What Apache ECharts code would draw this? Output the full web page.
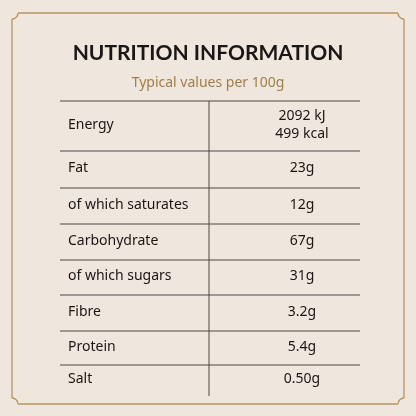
<!DOCTYPE html>
<html><head><meta charset="utf-8">
<script src="https://cdn.jsdelivr.net/npm/echarts@6/dist/echarts.min.js"></script>
<style>html,body{margin:0;padding:0;background:#efe6de}#c{width:416px;height:416px}</style>
</head><body><div id="c"></div>
<script>
const title = "NUTRITION INFORMATION";
const subtitle = "Typical values per 100g";
const nutrients = ["Energy","Fat","of which saturates","Carbohydrate","of which sugars","Fibre","Protein","Salt"];
const amounts = [["2092 kJ","499 kcal"],["23g"],["12g"],["67g"],["31g"],["3.2g"],["5.4g"],["0.50g"]];
const rowEdges = [101,151,188,224,260,295,331,365,396];

const chart = echarts.init(document.getElementById('c'), null, {renderer:'canvas'});
const g = [];
const ink = '#1a1614', line = '#4a4644', font = '"Noto Sans", "Open Sans", sans-serif';
const fr = {stroke:'#b8955e', lineWidth:1.3, fill:'none'};
const L=12,R=404,T=13,B=404,r=6,P=Math.PI;
g.push({type:'line', shape:{x1:L+r,y1:T,x2:R-r,y2:T}, style:fr});
g.push({type:'line', shape:{x1:L+r,y1:B,x2:R-r,y2:B}, style:fr});
g.push({type:'line', shape:{x1:L,y1:T+r,x2:L,y2:B-r}, style:fr});
g.push({type:'line', shape:{x1:R,y1:T+r,x2:R,y2:B-r}, style:fr});
[[L,T,0,P/2],[R,T,P/2,P],[R,B,P,1.5*P],[L,B,1.5*P,2*P]].forEach(c=>{
  g.push({type:'arc', shape:{cx:c[0],cy:c[1],r:r,startAngle:c[2],endAngle:c[3],clockwise:true}, style:fr});
});
g.push({type:'text', x:208, y:53, style:{text:title, align:'center', verticalAlign:'middle', font:'bold 21px "Lato", "Noto Sans", sans-serif', fill:ink}});
g.push({type:'text', x:208, y:83, style:{text:subtitle, align:'center', verticalAlign:'middle', font:'14px '+font, fill:'#a27d47'}});
for (let i=0;i<rowEdges.length-1;i++){
  g.push({type:'line', shape:{x1:60,y1:rowEdges[i],x2:360,y2:rowEdges[i]}, style:{stroke:line, lineWidth:1}});
  const yc = (rowEdges[i]+rowEdges[i+1])/2 - 1;
  g.push({type:'text', x:68, y:yc, style:{text:nutrients[i], align:'left', verticalAlign:'middle', font:'14px '+font, fill:ink}});
  const a = amounts[i];
  a.forEach((t,j)=>{
    g.push({type:'text', x:302, y:yc + (j-(a.length-1)/2)*18, style:{text:t, align:'center', verticalAlign:'middle', font:'14px '+font, fill:ink}});
  });
}
g.push({type:'line', shape:{x1:209,y1:101,x2:209,y2:396}, style:{stroke:line, lineWidth:1}});
chart.setOption({backgroundColor:'#efe6de', graphic:g});
</script></body></html>
